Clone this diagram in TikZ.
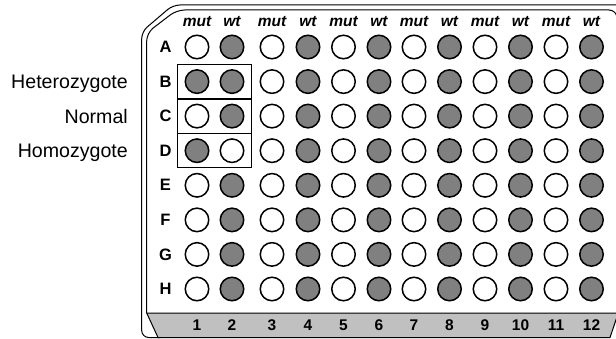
\documentclass[tikz,border=0pt]{standalone}
\usepackage{fontspec}
\setmainfont{Liberation Sans}
\definecolor{wellgray}{RGB}{128,128,128}
\definecolor{bandgray}{RGB}{192,192,192}
\begin{document}
\begin{tikzpicture}[x=1pt,y=-1pt,
  well/.style={circle, draw=black, line width=1.5pt, minimum size=23.5pt, inner sep=0pt},
  rowlab/.style={font=\fontsize{16.5}{19}\selectfont\bfseries, inner sep=0pt},
  collab/.style={font=\fontsize{15.5}{18}\selectfont\bfseries\itshape, inner sep=0pt, anchor=base},
  numlab/.style={font=\fontsize{15.5}{18}\selectfont\bfseries, inner sep=0pt, anchor=base},
  sidelab/.style={font=\fontsize{19.6}{22}\selectfont, inner sep=0pt, anchor=base east},
  plate/.style={line width=1pt},
  gbox/.style={draw, line width=1.4pt}]
\useasboundingbox (0,0) rectangle (616,339);
\clip (0,0) rectangle (616,339);
% gray band
\fill[bandgray] (146.7,313) -- (618.3,313) -- (610,337.5) -- (158,337.5) -- cycle;
\draw[plate] (146.7,313) -- (618.3,313) -- (610,337.5) -- (158,337.5) -- cycle;
% outer outline
\draw[plate, rounded corners=7pt] (630,5) -- (173,5) -- (141.7,31.7) -- (141.7,337.5) -- (160,337.5);
% inner outline
\draw[plate, rounded corners=8pt] (146.7,313) -- (146.7,33) -- (176.7,10) -- (617,10) -- (617,313);
% column headers and numbers
\foreach \x [count=\k] in {197,232,272,308,343.5,379,414,449.5,485,520.5,556,591.5}{
  \ifodd\k \def\hd{mut}\else\def\hd{wt}\fi
  \node[collab] (h-\k) at (\x,26.5) {\hd};
  \node[numlab] (n-\k) at (\x,330) {\k};
}
% wells
\foreach \r/\y/\fa/\fb in {A/47/white/wellgray, B/81.6/wellgray/wellgray, C/116.1/white/wellgray,
  D/150.7/wellgray/white, E/185.3/white/wellgray, F/219.9/white/wellgray,
  G/254.4/white/wellgray, H/289/white/wellgray}{
  \node[rowlab] (r-\r) at (165.5,\y) {\r};
  \node[well, fill=\fa] (w-\r-1) at (197,\y) {};
  \node[well, fill=\fb] (w-\r-2) at (232,\y) {};
  \foreach \c/\x in {3/272,4/308,5/343.5,6/379,7/414,8/449.5,9/485,10/520.5,11/556,12/591.5}{
    \ifodd\c \def\f{white}\else\def\f{wellgray}\fi
    \node[well, fill=\f] (w-\r-\c) at (\x,\y) {};
  }
}
% genotype boxes
\draw[gbox] (177.5,64.3) rectangle (251.7,98.9);
\draw[gbox] (177.5,98.9) rectangle (251.7,133.4);
\draw[gbox] (177.5,133.4) rectangle (251.7,167.5);
% side labels
\node[sidelab] (lab-het) at (128,88.6) {Heterozygote};
\node[sidelab] (lab-nor) at (128,123.1) {Normal};
\node[sidelab] (lab-hom) at (128,157.7) {Homozygote};
\end{tikzpicture}
\end{document}
